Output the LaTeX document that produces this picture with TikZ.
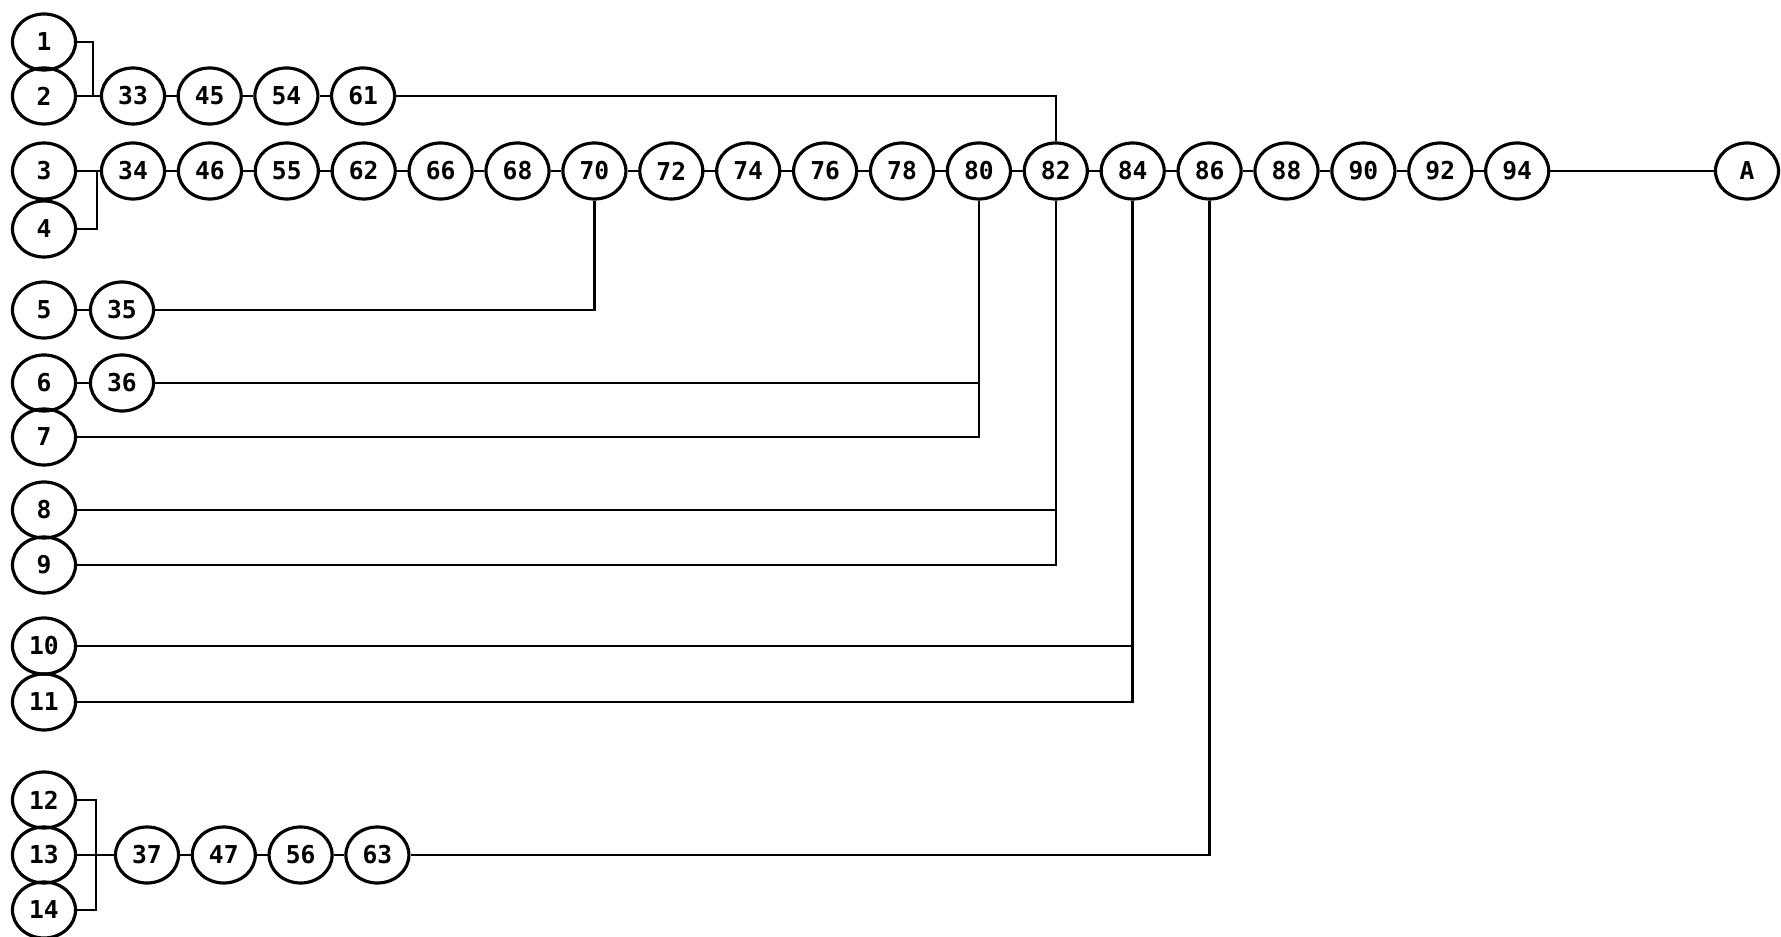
\documentclass[tikz,border=0pt]{standalone}
\usepackage{fontspec}
\newfontfamily\dotfont{DejaVu Sans Mono}
\usetikzlibrary{
  shapes.geometric,
  positioning,
  calc
}
\tikzset{>=latex}
\tikzset{state/.style={ellipse, draw=black, line width=0.9pt,
    minimum width=0.63cm, minimum height=0.56cm, inner sep=0pt,
    font=\dotfont\bfseries\fontsize{7}{8}\selectfont}}
\tikzset{link/.style={line width=0.7pt}}

\begin{document}
\begin{tikzpicture}[x=0.01cm, y=-0.01cm]
  \useasboundingbox (0,0) rectangle (1781,937);
  % left column
  \foreach \n/\y in {1/42, 2/96, 3/171, 4/229, 5/310, 6/383, 7/437,
      8/510, 9/565, 10/646, 11/702, 12/800, 13/855, 14/910}
    \node[state] (n\n) at (44,\y) {\n};
  % chains
  \foreach \n [count=\i from 0] in {33,45,54,61}
    \node[state] (n\n) at (133+76.7*\i, 96) {\n};
  \foreach \n [count=\i from 0] in {34,46,55,62,66,68,70,72,74,76,78,80,82,84,86,88,90,92,94}
    \node[state] (n\n) at (133+76.9*\i, 171) {\n};
  \foreach \n [count=\i from 0] in {37,47,56,63}
    \node[state] (n\n) at (147+76.8*\i, 855) {\n};
  \node[state] (n35) at (122,310) {35};
  \node[state] (n36) at (122,383) {36};
  \node[state] (nA) at (1747,171) {A};
  % links along the chains
  \foreach \b [remember=\b as \a (initially 33)] in {45,54,61}
    \draw[link] (n\a) -- (n\b);
  \foreach \b [remember=\b as \a (initially 34)] in {46,55,62,66,68,70,72,74,76,78,80,82,84,86,88,90,92,94}
    \draw[link] (n\a) -- (n\b);
  \foreach \b [remember=\b as \a (initially 37)] in {47,56,63}
    \draw[link] (n\a) -- (n\b);
  \draw[link] (n94) -- (nA);
  \draw[link] (n5) -- (n35);
  \draw[link] (n6) -- (n36);
  % joins on the left
  \coordinate (j1) at (93,96);
  \coordinate (j2) at (97,171);
  \coordinate (j3) at (96,855);
  \draw[link] (n1) -| (j1);
  \draw[link] (n2) -- (n33);
  \draw[link] (n4) -| (j2);
  \draw[link] (n3) -- (n34);
  \draw[link] (n12) -| (j3);
  \draw[link] (n14) -| (j3);
  \draw[link] (n13) -- (n37);
  % long links into the main chain
  \draw[link] (n61) -| (n82);
  \draw[link] (n35) -| (n70);
  \draw[link] (n36) -| (n80);
  \draw[link] (n7) -| (n80);
  \draw[link] (n8) -| (n82);
  \draw[link] (n9) -| (n82);
  \draw[link] (n10) -| (n84);
  \draw[link] (n11) -| (n84);
  \draw[link] (n63) -| (n86);
\end{tikzpicture}
\end{document}
